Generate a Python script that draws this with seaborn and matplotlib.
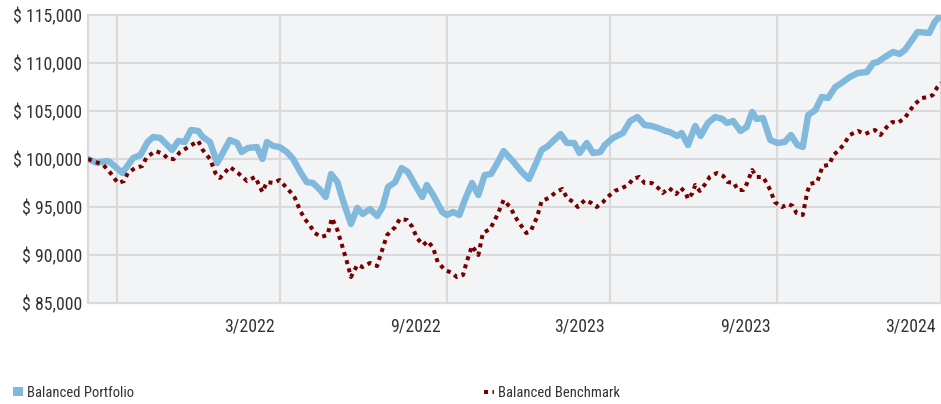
import pandas as pd
import matplotlib
matplotlib.use("Agg")
import matplotlib.pyplot as plt
import matplotlib.transforms as mtransforms
from matplotlib.patches import Patch
from matplotlib.lines import Line2D
import seaborn as sns

# Valeurs (jours depuis le 31/07/2021, valeur en $)
start = pd.Timestamp("2021-07-31")

portfolio_days = [0, 10, 21, 24, 38, 50, 58, 66, 72, 80, 93, 100, 107, 114, 122, 127, 135, 143,
                  157, 165, 170, 177, 187, 193, 198, 205, 212, 220, 227, 235, 242, 249, 257, 263,
                  269, 276, 282, 291, 298, 304, 312, 320, 326, 332, 340, 347, 354, 362, 370, 375,
                  382, 392, 397, 404, 411, 417, 425, 432, 439, 446, 453, 460, 469, 480, 488, 495,
                  502, 509, 517, 523, 530, 538, 544, 552, 559, 567, 572, 581, 592, 600, 608, 616,
                  624, 631, 639, 644, 652, 657, 664, 672, 678, 686, 694, 702, 707, 714, 722, 729,
                  735, 740, 747, 755, 763, 771, 778, 785, 791, 797, 805, 812, 819, 827, 834, 843,
                  852, 862, 869, 874, 882, 891, 898, 904, 912, 918, 931, 937, 944]
portfolio = [100000, 99600, 99800, 99700, 98550, 100100, 100420, 101770, 102290, 102190, 100940,
             101880, 101770, 103020, 102920, 102290, 101770, 99580, 101980, 101670, 100730,
             101150, 101250, 100000, 101770, 101350, 101250, 100730, 100000, 98650, 97600, 97500,
             96770, 96040, 98440, 97600, 95730, 93230, 94900, 94270, 94790, 94060, 95000, 97080,
             97600, 99060, 98650, 97290, 96040, 97290, 96250, 94480, 94170, 94480, 94170, 95730,
             97500, 96250, 98330, 98440, 99580, 100830, 99900, 98650, 97920, 99380, 100940,
             101350, 102080, 102600, 101670, 101670, 100620, 101670, 100620, 100730, 101460,
             102190, 102710, 103960, 104380, 103540, 103440, 103230, 102920, 102810, 102400,
             102710, 101460, 103440, 102400, 103750, 104380, 104170, 103750, 103960, 102920,
             103330, 104900, 104170, 104270, 101980, 101670, 101770, 102500, 101460, 101250,
             104580, 105100, 106460, 106350, 107500, 107920, 108540, 108960, 109060, 110000,
             110100, 110630, 111150, 110940, 111350, 112400, 113230, 113130, 114270, 115000]

benchmark_days = [0, 17, 24, 33, 40, 44, 52, 60, 65, 75, 83, 89, 95, 102, 111, 122, 127, 135, 141,
                  146, 157, 166, 176, 185, 193, 198, 205, 212, 224, 229, 235, 240, 246, 251, 258,
                  265, 270, 276, 281, 286, 291, 298, 304, 312, 320, 323, 331, 340, 345, 353, 359,
                  364, 371, 376, 382, 387, 395, 403, 408, 415, 419, 425, 432, 437, 445, 453, 460,
                  467, 475, 485, 490, 497, 502, 510, 518, 525, 530, 537, 542, 550, 557, 563, 570,
                  575, 583, 591, 598, 603, 610, 616, 624, 631, 636, 643, 651, 656, 661, 664, 669,
                  672, 677, 684, 688, 696, 703, 708, 715, 719, 725, 729, 735, 740, 747, 751, 755,
                  760, 768, 775, 780, 784, 791, 796, 799, 807, 810, 813, 820, 825, 830, 836, 843,
                  852, 860, 865, 871, 877, 884, 890, 896, 904, 910, 915, 923, 930, 935, 940, 944]
benchmark = [100000, 99380, 98650, 97500, 97710, 98540, 99060, 99270, 100210, 100830, 100520,
             100000, 100000, 100730, 101250, 101880, 100940, 100000, 98540, 98020, 99170, 98540,
             97710, 98130, 96560, 97600, 97500, 97810, 96560, 95940, 94580, 93750, 93020, 92290,
             91880, 92080, 93850, 92600, 91040, 89480, 87710, 88960, 88750, 89170, 88850, 89790,
             92080, 92920, 93750, 93650, 92920, 91770, 91040, 91460, 90730, 89270, 88440, 88130,
             87710, 87920, 89270, 90940, 90000, 92290, 92710, 94170, 95730, 95000, 93650, 92290,
             92500, 93960, 95630, 95940, 96560, 96880, 95940, 95520, 95000, 95730, 95420, 95000,
             95520, 96040, 96670, 96980, 97290, 97920, 98130, 97500, 97500, 96980, 96460, 96980,
             96350, 96980, 96560, 95830, 96460, 97290, 96670, 97500, 98130, 98540, 98230, 97600,
             97500, 96770, 96770, 97400, 98850, 98130, 98130, 97500, 96770, 95520, 95000, 95310,
             95100, 94380, 94170, 96560, 97400, 97600, 98440, 99270, 99380, 100420, 100830,
             101460, 102500, 102920, 102600, 102810, 103020, 102500, 103330, 103850, 103750,
             104270, 105100, 105730, 106350, 106460, 106670, 107500, 107920]

y_ticks = [85000, 90000, 95000, 100000, 105000, 110000, 115000]
x_ticks = ["2021-07-31", "2021-09-01", "2022-03-01", "2022-09-01", "2023-03-01", "2023-09-01", "2024-03-01"]
x_labels = ["", "", "3/2022", "9/2022", "3/2023", "9/2023", "3/2024"]

df_p = pd.DataFrame({"date": start + pd.to_timedelta(portfolio_days, unit="D"), "value": portfolio})
df_b = pd.DataFrame({"date": start + pd.to_timedelta(benchmark_days, unit="D"), "value": benchmark})

sns.set_style("whitegrid")
plt.rcParams["font.family"] = ["Roboto Condensed", "Roboto", "DejaVu Sans"]

grid_col = "#dadada"
blue = "#80b9dc"
red = "#7a0000"

fig = plt.figure(figsize=(9.41, 4.04), dpi=100)
ax = fig.add_axes([88 / 941, (404 - 303) / 404, 1 - 88 / 941, (303 - 15) / 404])
ax.set_facecolor("#f3f4f6")

sns.lineplot(data=df_p, x="date", y="value", ax=ax, color=blue, linewidth=4.6,
             solid_joinstyle="round", zorder=3)
sns.lineplot(data=df_b, x="date", y="value", ax=ax, color=red, linewidth=2.9,
             linestyle=(0, (1, 1.1)), dash_capstyle="butt", zorder=4)

ax.set_ylim(85000, 115000)
ax.set_xlim(pd.Timestamp(x_ticks[0]), pd.Timestamp(x_ticks[-1]))
ax.set_yticks(y_ticks)
ax.set_yticklabels([f"$ {v:,}" for v in y_ticks])
ax.set_xticks([pd.Timestamp(d) for d in x_ticks])
ax.set_xticklabels(x_labels)
ax.set_xlabel("")
ax.set_ylabel("")

ax.grid(True, color=grid_col, linewidth=1.6)
for g in ax.get_xgridlines() + ax.get_ygridlines():
    g.set_clip_on(False)
for s in ax.spines.values():
    s.set_visible(False)

ax.tick_params(axis="x", length=9.5, width=1.6, color=grid_col, pad=1,
               labelsize=12.8, labelcolor="#333333")
ax.tick_params(axis="y", length=0, pad=4.3, labelsize=12.8, labelcolor="#333333")

offset = mtransforms.ScaledTranslation(-4 / 72, 0, fig.dpi_scale_trans)
for lab in ax.get_xticklabels():
    lab.set_horizontalalignment("right")
    lab.set_transform(lab.get_transform() + offset)

handles = [Patch(facecolor=blue, edgecolor="none"),
           Line2D([0], [0], color=red, linewidth=2.9, linestyle=(0, (1, 1.1)), dash_capstyle="butt")]
fig.legend(handles, ["Balanced Portfolio", "Balanced Benchmark"], loc="lower left",
           bbox_to_anchor=(0.0, -0.022), ncol=2, frameon=False, fontsize=10.5,
           handlelength=0.7, handleheight=0.5, handletextpad=0.25, columnspacing=24.0,
           labelcolor="#333333")

plt.savefig("out.png", dpi=100)
